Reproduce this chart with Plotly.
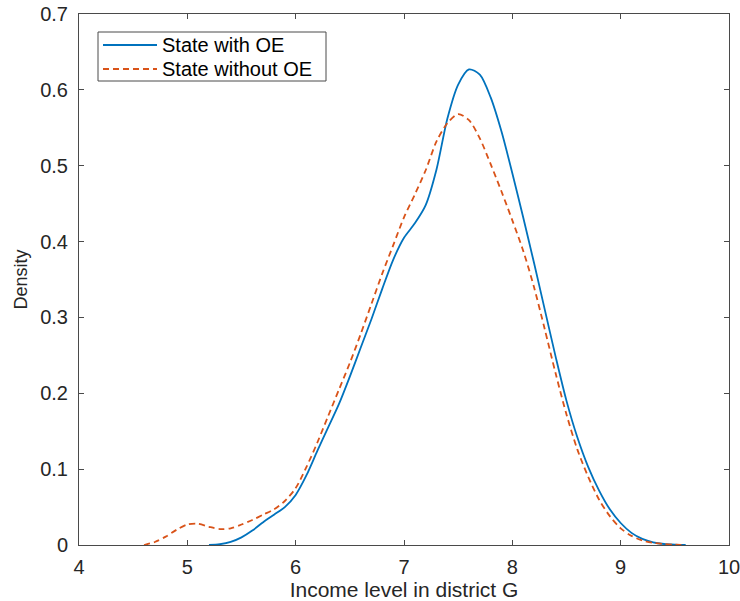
import plotly.graph_objects as go

# Kernel density estimates of income level, district G
x_with = [5.2, 5.3, 5.4, 5.5, 5.6, 5.7, 5.8, 5.9, 6.0, 6.1, 6.2, 6.3, 6.4, 6.5,
          6.6, 6.7, 6.8, 6.9, 7.0, 7.1, 7.2, 7.3, 7.4, 7.5, 7.6, 7.7, 7.8, 7.9,
          8.0, 8.1, 8.2, 8.3, 8.4, 8.5, 8.6, 8.7, 8.8, 8.9, 9.0, 9.1, 9.2, 9.3,
          9.4, 9.5, 9.6]
y_with = [0.0, 0.001, 0.004, 0.010, 0.019, 0.030, 0.040, 0.050, 0.066, 0.092,
          0.124, 0.155, 0.186, 0.222, 0.260, 0.298, 0.338, 0.376, 0.405, 0.424,
          0.448, 0.495, 0.562, 0.607, 0.627, 0.620, 0.590, 0.545, 0.490, 0.432,
          0.372, 0.310, 0.248, 0.190, 0.142, 0.103, 0.072, 0.047, 0.029, 0.016,
          0.008, 0.0035, 0.0013, 0.0004, 0.0]

x_without = [4.6, 4.7, 4.8, 4.9, 5.0, 5.1, 5.2, 5.3, 5.4, 5.5, 5.6, 5.7, 5.8,
             5.9, 6.0, 6.1, 6.2, 6.3, 6.4, 6.5, 6.6, 6.7, 6.8, 6.9, 7.0, 7.1,
             7.2, 7.3, 7.4, 7.5, 7.6, 7.7, 7.8, 7.9, 8.0, 8.1, 8.2, 8.3, 8.4,
             8.5, 8.6, 8.7, 8.8, 8.9, 9.0, 9.1, 9.2, 9.3, 9.4, 9.5, 9.6]
y_without = [0.0, 0.004, 0.011, 0.020, 0.027, 0.028, 0.024, 0.021, 0.022, 0.027,
             0.033, 0.040, 0.047, 0.058, 0.075, 0.103, 0.135, 0.170, 0.205,
             0.240, 0.278, 0.318, 0.358, 0.395, 0.432, 0.462, 0.494, 0.532,
             0.556, 0.568, 0.560, 0.536, 0.502, 0.466, 0.428, 0.388, 0.340,
             0.284, 0.226, 0.172, 0.126, 0.090, 0.060, 0.038, 0.022, 0.012,
             0.006, 0.0028, 0.0012, 0.0004, 0.0]

series_names = ["State with OE", "State without OE"]
series_colors = ["#0072BD", "#D95319"]
series_dashes = ["solid", "6px,4px"]

x_ticks = [4, 5, 6, 7, 8, 9, 10]
y_ticks = [0, 0.1, 0.2, 0.3, 0.4, 0.5, 0.6, 0.7]

AXIS_COLOR = "#4a4a4a"
TEXT_COLOR = "#262626"
FONT = "Liberation Sans, Arial, sans-serif"

fig = go.Figure()
for xs, ys, name, color, dash in zip([x_with, x_without], [y_with, y_without],
                                     series_names, series_colors, series_dashes):
    fig.add_trace(go.Scatter(
        x=xs, y=ys, mode="lines", name=name, showlegend=False,
        line=dict(color=color, width=1.8, dash=dash, shape="spline",
                  smoothing=0.8),
    ))

axis_common = dict(
    showline=True, linecolor=AXIS_COLOR, linewidth=1, mirror="ticks",
    ticks="inside", ticklen=5, tickcolor=AXIS_COLOR, tickwidth=1,
    showgrid=False, zeroline=False, automargin=False,
    ticklabeloverflow="allow",
    tickfont=dict(size=20, color=TEXT_COLOR, family=FONT),
)

fig.update_xaxes(
    range=[4, 10], tickvals=x_ticks, ticklabelstandoff=4,
    title=dict(text="Income level in district G", standoff=6,
               font=dict(size=21, color=TEXT_COLOR, family=FONT)),
    **axis_common,
)
fig.update_yaxes(
    range=[0, 0.7], tickvals=y_ticks, ticklabelstandoff=6,
    title=dict(text="Density", standoff=7,
               font=dict(size=18, color=TEXT_COLOR, family=FONT)),
    **axis_common,
)

# Boxed legend in the upper-left corner of the axes
plot_l, plot_r, plot_t, plot_b = 79, 729, 14, 545
W, H = 740, 601


def px_x(p):
    return (p - plot_l) / (plot_r - plot_l)


def px_y(p):
    return (plot_b - p) / (plot_b - plot_t)


shapes = [dict(type="rect", xref="paper", yref="paper",
               x0=px_x(98), x1=px_x(326), y0=px_y(81), y1=px_y(32),
               line=dict(color=AXIS_COLOR, width=1), fillcolor="white",
               layer="above")]
annotations = []
for i, (name, color, dash) in enumerate(zip(series_names, series_colors,
                                            series_dashes)):
    yrow = 45 + 24 * i
    shapes.append(dict(type="line", xref="paper", yref="paper",
                       x0=px_x(103), x1=px_x(157), y0=px_y(yrow), y1=px_y(yrow),
                       line=dict(color=color, width=1.8, dash=dash),
                       layer="above"))
    annotations.append(dict(xref="paper", yref="paper", x=px_x(160),
                            y=px_y(yrow), text=name, showarrow=False,
                            xanchor="left", yanchor="middle",
                            font=dict(size=20, color="#000000", family=FONT)))

fig.update_layout(
    width=W, height=H,
    margin=dict(l=plot_l, r=W - plot_r, t=plot_t, b=H - plot_b),
    plot_bgcolor="white", paper_bgcolor="white",
    font=dict(family=FONT, color=TEXT_COLOR),
    shapes=shapes, annotations=annotations,
    showlegend=False,
)

fig.write_html("out.html")
